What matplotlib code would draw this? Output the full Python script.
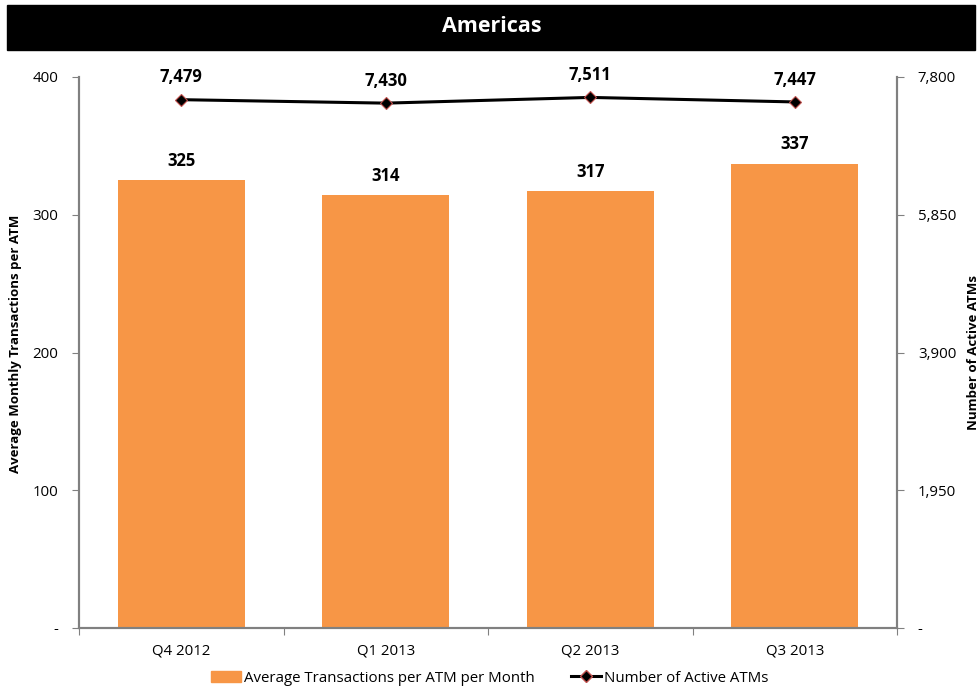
import matplotlib.pyplot as plt
from matplotlib.lines import Line2D
from matplotlib.patches import Patch

# --- Data ---
quarters = ["Q4 2012", "Q1 2013", "Q2 2013", "Q3 2013"]
avg_transactions = [325, 314, 317, 337]
active_atms = [7479, 7430, 7511, 7447]

plt.rcParams["font.family"] = ["Open Sans", "DejaVu Sans"]

bar_color = "#F79646"
axis_gray = "#808080"

fig = plt.figure(figsize=(9.8, 6.88), dpi=100)

# --- Title bar ---
fig.patches.append(plt.Rectangle((7 / 980, 1 - 50 / 688), 968 / 980, 45 / 688,
                                 transform=fig.transFigure, color="black", zorder=0))
fig.text(492 / 980, 1 - 27 / 688, "Americas", color="white", fontsize=15.5,
         fontweight="bold", ha="center", va="center")

ax = fig.add_axes([79 / 980, 1 - 628 / 688, 818 / 980, 551 / 688])
x = list(range(len(quarters)))

ax.bar(x, avg_transactions, width=0.62, color=bar_color, zorder=2)
ax.set_xlim(-0.5, len(quarters) - 0.5)
ax.set_ylim(0, 400)
ax.set_yticks([0, 100, 200, 300, 400])
ax.set_yticklabels(["-", "100", "200", "300", "400"])
ax.set_ylabel("Average Monthly Transactions per ATM", fontsize=9.5, fontweight="bold")
ax.yaxis.set_label_coords(-0.07, 0.515)

for xi, v in zip(x, avg_transactions):
    ax.annotate(str(v), (xi, v), xytext=(0, 14), textcoords="offset points",
                ha="center", va="center", fontsize=12, fontweight="bold")

# --- x axis: ticks at category boundaries ---
ax.set_xticks([i - 0.5 for i in range(len(quarters) + 1)])
ax.set_xticklabels([])
ax.set_xticks(x, minor=True)
ax.set_xticklabels(quarters, minor=True, fontsize=10.8)
ax.tick_params(axis="x", which="minor", length=0, pad=11)
ax.tick_params(axis="x", which="major", length=5, color=axis_gray, direction="out")
ax.tick_params(axis="y", length=5, color=axis_gray, labelsize=10.8, pad=10)

ax.spines["top"].set_visible(False)
for side in ["left", "right", "bottom"]:
    ax.spines[side].set_color(axis_gray)
    ax.spines[side].set_linewidth(1.5)

# --- Secondary axis: active ATMs ---
ax2 = ax.twinx()
ax2.plot(x, active_atms, color="black", linewidth=2.2, marker="D", markersize=6,
         markerfacecolor="black", markeredgecolor="#C0504D", markeredgewidth=0.8, zorder=3)
ax2.set_ylim(0, 7800)
ax2.set_yticks([0, 1950, 3900, 5850, 7800])
ax2.set_yticklabels(["-", "1,950", "3,900", "5,850", "7,800"])
ax2.set_ylabel("Number of Active ATMs", fontsize=9.5, fontweight="bold")
ax2.yaxis.set_label_coords(1.086, 0.5)
ax2.tick_params(axis="y", length=5, color=axis_gray, labelsize=10.8, pad=10)
ax2.spines["top"].set_visible(False)
for side in ["left", "right", "bottom"]:
    ax2.spines[side].set_color(axis_gray)
    ax2.spines[side].set_linewidth(1.5)

for xi, v in zip(x, active_atms):
    ax2.annotate(f"{v:,}", (xi, v), xytext=(0, 16), textcoords="offset points",
                 ha="center", va="center", fontsize=12, fontweight="bold")

# --- Legend ---
handles = [
    Patch(color=bar_color, label="Average Transactions per ATM per Month"),
    Line2D([0], [0], color="black", linewidth=2.2, marker="D", markersize=6,
           markerfacecolor="black", markeredgecolor="#C0504D",
           label="Number of Active ATMs"),
]
fig.legend(handles=handles, loc="center", bbox_to_anchor=(0.5, 1 - 678 / 688),
           ncol=2, frameon=False, fontsize=10.8, handlelength=2.0,
           handletextpad=0.2, columnspacing=2.4)

plt.savefig("out.png", dpi=100)
plt.close()
